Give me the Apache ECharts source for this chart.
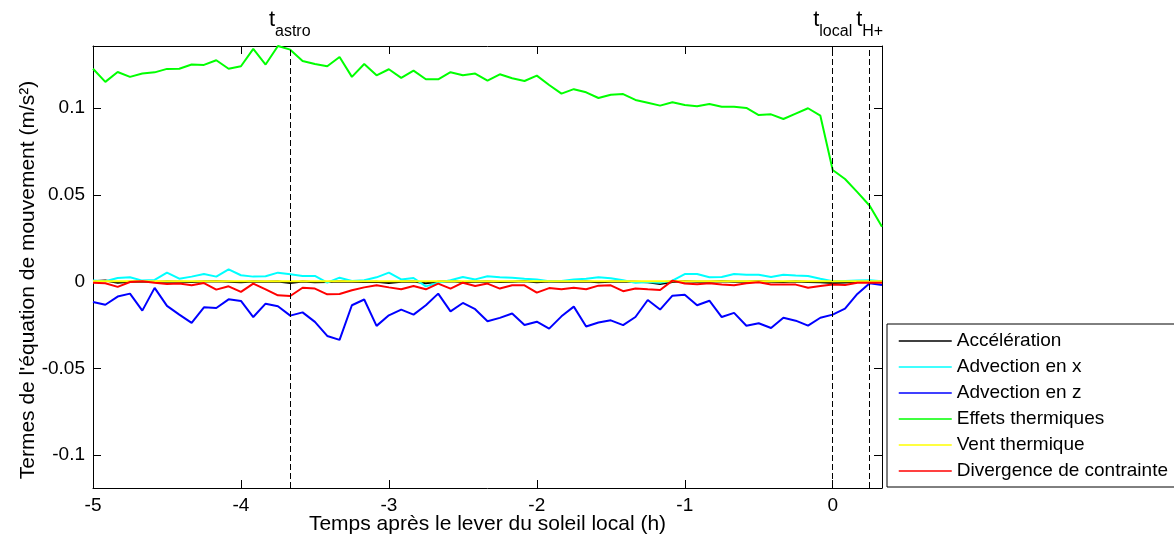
<!DOCTYPE html>
<html>
<head>
<meta charset="utf-8">
<script src="https://cdn.jsdelivr.net/npm/echarts@6/dist/echarts.min.js"></script>
<style>html,body{margin:0;padding:0;background:#fff;}#c{width:1174px;height:542px;}</style>
</head>
<body>
<div id="c"></div>
<script>
// time in minutes after local sunrise
const minutes = [-300,-295,-290,-285,-280,-275,-270,-265,-260,-255,-250,-245,-240,-235,-230,-225,-220,-215,-210,-205,-200,-195,-190,-185,-180,-175,-170,-165,-160,-155,-150,-145,-140,-135,-130,-125,-120,-115,-110,-105,-100,-95,-90,-85,-80,-75,-70,-65,-60,-55,-50,-45,-40,-35,-30,-25,-20,-15,-10,-5,0,5,10,15,20];

const acceleration = [0.0002,0.0007,-0.0006,0,0.0001,-0.0002,0.0001,0,-0.0002,0.0001,0.0002,0,-0.0003,0.0001,0,0.0001,-0.0008,0.0001,-0.0004,-0.0002,0.0001,-0.0001,-0.0002,0,-0.0008,0,0.0001,-0.0009,0,0.0002,-0.0002,0,0.0001,-0.0002,0,0.0002,-0.0003,0.0001,-0.0001,0,0.0001,-0.0003,0,0.0001,-0.0001,-0.0003,-0.0013,-0.0002,0.0002,-0.0001,0,0.0002,0,-0.0001,0.0002,0,-0.0002,0.0001,-0.0002,-0.0004,-0.0008,-0.0005,0,0.0004,0.0002];

const advectionX = [0.0006,0.0002,0.0021,0.0025,0.0006,0.0010,0.0052,0.0017,0.0029,0.0044,0.0029,0.0071,0.0037,0.0029,0.0031,0.0052,0.0043,0.0033,0.0033,-0.0006,0.0023,0.0004,0.0008,0.0025,0.0052,0.0013,0.0021,-0.0027,-0.0006,0.0008,0.0027,0.0013,0.0031,0.0025,0.0023,0.0017,0.0012,0.0002,0.0004,0.0013,0.0017,0.0025,0.0019,0.0008,-0.0006,-0.0002,-0.0006,0.0006,0.0044,0.0044,0.0025,0.0027,0.0044,0.0040,0.0040,0.0027,0.0040,0.0036,0.0033,0.0017,0.0002,0.0004,0.0006,0.0008,0.0002];

const advectionZ = [-0.0117,-0.0133,-0.0086,-0.0069,-0.0167,-0.0036,-0.0140,-0.0190,-0.0238,-0.0148,-0.0152,-0.0102,-0.0111,-0.0204,-0.0127,-0.0142,-0.0196,-0.0177,-0.0232,-0.0313,-0.0336,-0.0136,-0.0103,-0.0255,-0.0194,-0.0161,-0.0190,-0.0136,-0.0069,-0.0171,-0.0123,-0.0159,-0.0228,-0.0209,-0.0184,-0.0250,-0.0231,-0.0271,-0.0200,-0.0144,-0.0259,-0.0236,-0.0223,-0.0251,-0.0204,-0.0106,-0.0161,-0.0081,-0.0075,-0.0136,-0.0110,-0.0204,-0.0180,-0.0254,-0.0240,-0.0267,-0.0208,-0.0225,-0.0254,-0.0208,-0.0190,-0.0156,-0.0071,-0.0009,-0.0019];

const thermalEffects = [0.1228,0.1152,0.1209,0.1181,0.1200,0.1207,0.1227,0.1228,0.1252,0.1250,0.1277,0.1228,0.1242,0.1342,0.1252,0.1359,0.1338,0.1273,0.1255,0.1242,0.1296,0.1181,0.1255,0.1190,0.1225,0.1175,0.1217,0.1167,0.1167,0.1208,0.1190,0.1200,0.1159,0.1196,0.1173,0.1157,0.1188,0.1134,0.1084,0.1110,0.1092,0.1059,0.1078,0.1082,0.1048,0.1032,0.1015,0.1035,0.1019,0.1011,0.1025,0.1009,0.1009,0.1002,0.0961,0.0965,0.0938,0.0969,0.1000,0.0957,0.0644,0.0592,0.0516,0.0438,0.0317];

const thermalWind = [0.0003,0.0003,0.0003,0.0003,0.0003,0.0003,0.0003,0.0003,0.0003,0.0003,0.0003,0.0003,0.0003,0.0003,0.0003,0.0003,0.0003,0.0003,0.0003,0.0003,0.0003,0.0003,0.0003,0.0003,0.0003,0.0003,0.0003,0.0003,0.0003,0.0003,0.0003,0.0003,0.0003,0.0003,0.0003,0.0003,0.0003,0.0003,0.0003,0.0003,0.0003,0.0003,0.0003,0.0003,0.0003,0.0003,0.0003,0.0003,0.0003,0.0003,0.0003,0.0003,0.0003,0.0003,0.0003,0.0003,0.0003,0.0003,0.0003,0.0003,0.0003,0.0003,0.0003,0.0003,0.0003];

const stressDivergence = [-0.0006,-0.0009,-0.0030,-0.0002,0.0002,-0.0006,-0.0013,-0.0011,-0.0021,-0.0008,-0.0046,-0.0027,-0.0059,-0.0011,-0.0044,-0.0079,-0.0083,-0.0035,-0.0040,-0.0073,-0.0071,-0.0050,-0.0033,-0.0021,-0.0033,-0.0044,-0.0025,-0.0044,-0.0011,-0.0040,-0.0006,-0.0025,-0.0011,-0.0040,-0.0021,-0.0021,-0.0063,-0.0037,-0.0044,-0.0035,-0.0044,-0.0023,-0.0021,-0.0055,-0.0039,-0.0044,-0.0048,0.0006,-0.0011,-0.0015,-0.0009,-0.0017,-0.0021,-0.0009,-0.0004,-0.0017,-0.0017,-0.0017,-0.0035,-0.0025,-0.0017,-0.0019,-0.0006,-0.0006,-0.0006];

const seriesNames = ['Accélération','Advection en x','Advection en z','Effets thermiques','Vent thermique','Divergence de contrainte'];
const seriesColors = ['#000000','#00ffff','#0000ff','#00ff00','#ffff00','#ff0000'];
const seriesValues = [acceleration, advectionX, advectionZ, thermalEffects, thermalWind, stressDivergence];

const xTicks = [-5,-4,-3,-2,-1,0];
const yTicks = [-0.1,-0.05,0,0.05,0.1];
const markerNames = ['astro','local','H+'];
const markerTimes = [-220/60, 0, 15/60];

const xMin = -5, xMax = 20/60, yMin = -0.119, yMax = 0.1359;
const FONT = 'Liberation Sans, Arial, Helvetica, sans-serif';

const hours = minutes.map(m => m / 60);

const chart = echarts.init(document.getElementById('c'), null, {renderer: 'canvas'});

const baseAxisLine = {show: true, onZero: false, lineStyle: {color: '#000', width: 1}};

const series = seriesNames.map((name, k) => ({
  name: name,
  type: 'line',
  xAxisIndex: 0,
  yAxisIndex: 0,
  symbol: 'none',
  showSymbol: false,
  animation: false,
  lineStyle: {color: seriesColors[k], width: 2},
  itemStyle: {color: seriesColors[k]},
  data: hours.map((h, i) => [h, seriesValues[k][i]])
}));

series[0].markLine = {
  silent: true,
  symbol: ['none', 'none'],
  animation: false,
  lineStyle: {color: '#000', width: 1, type: [6, 3]},
  label: {
    show: true,
    position: 'end',
    distance: 6,
    color: '#000',
    fontFamily: FONT,
    rich: {
      t: {fontSize: 22, fontFamily: FONT, color: '#000', padding: [0, 0, 9, 0], verticalAlign: 'bottom'},
      s: {fontSize: 16, fontFamily: FONT, color: '#000', verticalAlign: 'bottom'}
    }
  },
  data: markerTimes.map((t, i) => ({
    xAxis: t,
    label: {formatter: '{t|t}{s|' + markerNames[i] + '}'}
  }))
};

chart.setOption({
  backgroundColor: '#fff',
  animation: false,
  grid: {left: 93, top: 46, right: 292, bottom: 54, containLabel: false, outerBoundsMode: 'none'},
  legend: {
    left: 887, top: 324,
    orient: 'vertical',
    itemWidth: 53, itemHeight: 20, itemGap: 6,
    padding: [7, 10, 6, 11],
    borderColor: '#000', borderWidth: 1,
    backgroundColor: '#fff',
    itemStyle: {opacity: 0},
    lineStyle: {width: 1.5},
    textStyle: {fontSize: 19, color: '#000', fontFamily: FONT, lineHeight: 20},
    data: seriesNames
  },
  xAxis: [
    {
      type: 'value', position: 'bottom', min: xMin, max: xMax,
      axisLine: baseAxisLine,
      axisTick: {show: true, inside: true, length: 8, customValues: xTicks, lineStyle: {color: '#000'}},
      axisLabel: {show: true, customValues: xTicks, fontSize: 19, color: '#000', fontFamily: FONT, margin: 8},
      splitLine: {show: false},
      name: 'Temps après le lever du soleil local (h)',
      nameLocation: 'middle', nameGap: 26, nameMoveOverlap: false,
      nameTextStyle: {fontSize: 21, color: '#000', fontFamily: FONT}
    },
    {
      type: 'value', position: 'top', min: xMin, max: xMax,
      axisLine: baseAxisLine,
      axisTick: {show: true, inside: true, length: 8, customValues: xTicks, lineStyle: {color: '#000'}},
      axisLabel: {show: false},
      splitLine: {show: false}
    }
  ],
  yAxis: [
    {
      type: 'value', position: 'left', min: yMin, max: yMax,
      axisLine: baseAxisLine,
      axisTick: {show: true, inside: true, length: 8, customValues: yTicks, lineStyle: {color: '#000'}},
      axisLabel: {show: true, customValues: yTicks, fontSize: 19, color: '#000', fontFamily: FONT, margin: 8},
      splitLine: {show: false},
      name: "Termes de l'équation de mouvement (m/s²)",
      nameLocation: 'middle', nameGap: 54, nameMoveOverlap: false,
      nameTextStyle: {fontSize: 21, color: '#000', fontFamily: FONT, padding: [0, 26, 0, 0]}
    },
    {
      type: 'value', position: 'right', min: yMin, max: yMax,
      axisLine: baseAxisLine,
      axisTick: {show: true, inside: true, length: 8, customValues: yTicks, lineStyle: {color: '#000'}},
      axisLabel: {show: false},
      splitLine: {show: false}
    }
  ],
  series: series
});
</script>
</body>
</html>
